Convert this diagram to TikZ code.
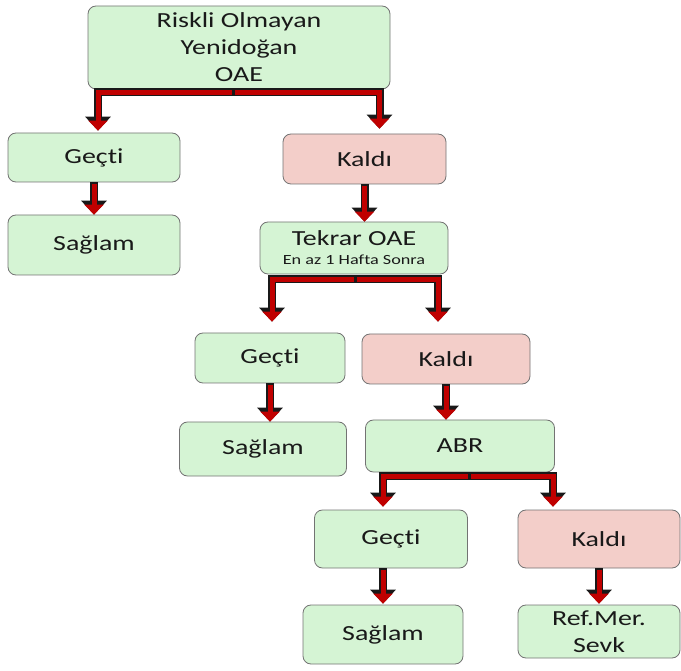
\documentclass[tikz,border=0pt]{standalone}
\usepackage{fontspec}
\setmainfont{Carlito}[FakeStretch=1.3, Ligatures=NoCommon]
\usetikzlibrary{arrows.meta}
\definecolor{passgreen}{RGB}{213,244,212}
\definecolor{failpink}{RGB}{243,206,201}
\definecolor{flowred}{RGB}{192,0,0}
\newcommand{\boxtxt}{\fontsize{21.5}{27}\selectfont}
\newcommand{\notetxt}{\fontsize{14}{16}\selectfont}

\begin{document}
\begin{tikzpicture}[x=1pt, y=-1pt,
        box/.style={draw=black!55, line width=0.8pt, rounded corners=8pt, inner sep=0pt,
                    align=center, text=black!90, font=\boxtxt},
        pass/.style={box, fill=passgreen},
        fail/.style={box, fill=failpink},
        flow/.style={draw=flowred, line width=5pt, shorten <=1.5pt,
                     -{Triangle[length=10pt, width=19pt]},
                     preaction={draw=black!90, line width=8pt, shorten <=0pt,
                                -{Triangle[length=14pt, width=25pt]}}}]
        \useasboundingbox (0,0) rectangle (681,671);
        % boxes
        \node [pass, minimum width=302pt, minimum height=83pt] (OAE) at (239, 47.5) {Riskli Olmayan\\Yenidoğan\\OAE};
        \node [pass, minimum width=172pt, minimum height=49pt] (G1) at (94, 157.5) {Geçti};
        \node [fail, minimum width=163pt, minimum height=50pt] (K1) at (364.5, 159) {Kaldı};
        \node [pass, minimum width=172pt, minimum height=60pt] (S1) at (94, 245) {Sağlam};
        \node [pass, minimum width=188pt, minimum height=52pt] (T) at (354, 248) {Tekrar OAE\\[-8pt]{\notetxt En az 1 Hafta Sonra}};
        \node [pass, minimum width=150pt, minimum height=50pt] (G2) at (270, 358) {Geçti};
        \node [fail, minimum width=168pt, minimum height=50pt] (K2) at (446, 359) {Kaldı};
        \node [pass, minimum width=167pt, minimum height=54pt] (S2) at (263, 449) {Sağlam};
        \node [pass, minimum width=189pt, minimum height=52pt] (ABR) at (460, 446) {ABR};
        \node [pass, minimum width=153pt, minimum height=58pt] (G3) at (391, 539) {Geçti};
        \node [fail, minimum width=162pt, minimum height=58pt] (K3) at (599, 539) {Kaldı};
        \node [pass, minimum width=160pt, minimum height=59pt] (S3) at (383, 634.5) {Sağlam};
        \node [pass, minimum width=162pt, minimum height=53pt] (R) at (599, 631.5) {Ref.Mer.\\Sevk};
        % forks
        \draw [flow] ([xshift=-6pt, yshift=-3pt]OAE.south) -| ([xshift=4pt, yshift=2pt]G1.north);
        \draw [flow] ([xshift=-6pt, yshift=-3pt]OAE.south) -| ([xshift=15pt, yshift=5pt]K1.north);
        \draw [flow] ([xshift=1pt, yshift=-5pt]T.south) -| ([xshift=2pt, yshift=11pt]G2.north);
        \draw [flow] ([xshift=1pt, yshift=-5pt]T.south) -| ([xshift=-8pt, yshift=12pt]K2.north);
        \draw [flow] ([xshift=9pt, yshift=-4pt]ABR.south) -| ([xshift=-8pt, yshift=3pt]G3.north);
        \draw [flow] ([xshift=9pt, yshift=-4pt]ABR.south) -| ([xshift=-46pt, yshift=3pt]K3.north);
        % straight ones
        \draw [flow] (G1.south) -- (S1.north);
        \draw [flow] (K1.south) -- (K1.south |- T.north);
        \draw [flow] (G2.south) -- (G2.south |- S2.north);
        \draw [flow] (K2.south) -- (K2.south |- ABR.north);
        \draw [flow] (S3.north |- G3.south) -- ([yshift=1pt]S3.north);
        \draw [flow] (K3.south) -- ([yshift=1pt]R.north);
\end{tikzpicture}
\end{document}
